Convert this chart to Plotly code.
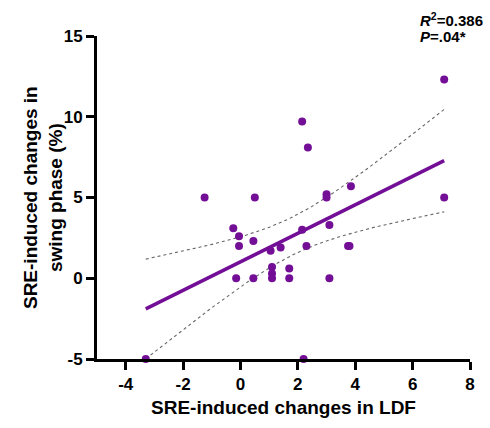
import numpy as np
import plotly.graph_objects as go

# data
ldf = [7.1, 2.15, 2.35, -1.25, 0.5, 3.0, 3.0, 3.85, 7.1, -0.25, -0.05, -0.05, 0.45, 1.05,
       1.4, 2.15, 3.1, 2.3, 3.75, 3.8, 1.1, 1.1, 1.7, -0.15, 0.45, 1.1, 1.7, 3.1, -3.3, 2.2]
swing = [12.3, 9.7, 8.1, 5.0, 5.0, 5.2, 5.0, 5.7, 5.0, 3.1, 2.6, 2.0, 2.3, 1.7,
         1.9, 3.0, 3.3, 2.0, 2.0, 2.0, 0.7, 0.3, 0.6, 0.0, 0.0, 0.0, 0.0, 0.0, -5.0, -5.0]
x_ticks = [-4, -2, 0, 2, 4, 6, 8]
y_ticks = [-5, 0, 5, 10, 15]

x = np.array(ldf)
y = np.array(swing)
n = len(x)
slope, intercept = np.polyfit(x, y, 1)
xs = np.linspace(x.min(), x.max(), 100)
yfit = intercept + slope * xs
resid = y - (intercept + slope * x)
s = np.sqrt(np.sum(resid ** 2) / (n - 2))
sxx = np.sum((x - x.mean()) ** 2)
tval = 2.048
half = tval * s * np.sqrt(1.0 / n + (xs - x.mean()) ** 2 / sxx)

purple = "#730E96"
FONT = "Liberation Sans"
fig = go.Figure()
fig.add_trace(go.Scatter(x=xs, y=yfit + half, mode="lines",
                         line=dict(color="#666666", width=1.1, dash="dot"), hoverinfo="skip"))
fig.add_trace(go.Scatter(x=xs, y=yfit - half, mode="lines",
                         line=dict(color="#666666", width=1.1, dash="dot"), hoverinfo="skip"))
fig.add_trace(go.Scatter(x=xs, y=yfit, mode="lines",
                         line=dict(color=purple, width=3.5)))
fig.add_trace(go.Scatter(x=x, y=y, mode="markers", cliponaxis=False,
                         marker=dict(color=purple, size=8)))

axis_common = dict(showline=True, linecolor="black", linewidth=3, ticks="outside",
                   ticklen=8, tickwidth=2.5, tickcolor="black", showgrid=False,
                   zeroline=False, tickfont=dict(family=FONT, size=17, color="black"))
fig.update_xaxes(range=[-5, 8], tickvals=x_ticks,
                 ticktext=["<b>%d</b>" % v for v in x_ticks], **axis_common,
                 title=dict(text="<b>SRE-induced changes in LDF</b>",
                            font=dict(family=FONT, size=19, color="black"), standoff=8))
fig.update_yaxes(range=[-5, 15], tickvals=y_ticks,
                 ticktext=["<b>%d</b>" % v for v in y_ticks], **axis_common)

fig.add_annotation(xref="paper", yref="paper", x=-0.146, y=0.5, xanchor="center", yanchor="middle",
                   textangle=-90, showarrow=False, align="center",
                   text="<b>SRE-induced changes in<br>swing phase (%)</b>",
                   font=dict(family=FONT, size=19, color="black"))
fig.add_annotation(xref="paper", yref="paper", x=0.86, y=1.052, xanchor="left", yanchor="middle",
                   showarrow=False, align="left",
                   text="<b><i>R</i><sup>2</sup>=0.386</b>",
                   font=dict(family=FONT, size=15, color="black"))
fig.add_annotation(xref="paper", yref="paper", x=0.86, y=0.998, xanchor="left", yanchor="middle",
                   showarrow=False, align="left",
                   text="<b><i>P</i>=.04*</b>",
                   font=dict(family=FONT, size=15, color="black"))

fig.update_layout(width=490, height=428, showlegend=False,
                  paper_bgcolor="white", plot_bgcolor="white",
                  margin=dict(l=97, r=20, t=36, b=67))
fig.write_html("out.html")
